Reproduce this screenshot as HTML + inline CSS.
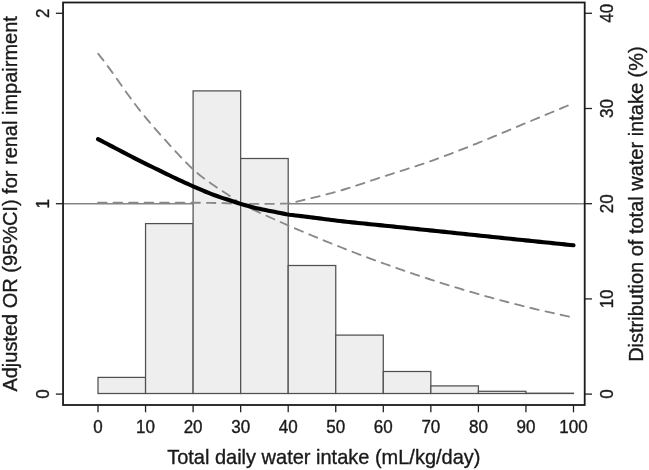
<!DOCTYPE html>
<html><head><meta charset="utf-8"><style>
html,body{margin:0;padding:0;background:#fff;width:649px;height:470px;overflow:hidden;font-family:"Liberation Sans",sans-serif;}
svg{display:block;will-change:transform;}
</style></head><body>
<svg width="649" height="470" viewBox="0 0 649 470">
<rect x="0" y="0" width="649" height="470" fill="#fff"/>
<line x1="63.05" y1="203.70" x2="584.70" y2="203.70" stroke="#858585" stroke-width="1.5"/>
<rect x="98.00" y="377.40" width="47.55" height="16.10" fill="#eeeeee" stroke="#505050" stroke-width="1.25"/>
<rect x="145.55" y="223.60" width="47.55" height="169.90" fill="#eeeeee" stroke="#505050" stroke-width="1.25"/>
<rect x="193.10" y="90.90" width="47.55" height="302.60" fill="#eeeeee" stroke="#505050" stroke-width="1.25"/>
<rect x="240.65" y="158.50" width="47.55" height="235.00" fill="#eeeeee" stroke="#505050" stroke-width="1.25"/>
<rect x="288.20" y="265.50" width="47.55" height="128.00" fill="#eeeeee" stroke="#505050" stroke-width="1.25"/>
<rect x="335.75" y="335.10" width="47.55" height="58.40" fill="#eeeeee" stroke="#505050" stroke-width="1.25"/>
<rect x="383.30" y="371.50" width="47.55" height="22.00" fill="#eeeeee" stroke="#505050" stroke-width="1.25"/>
<rect x="430.85" y="385.90" width="47.55" height="7.60" fill="#eeeeee" stroke="#505050" stroke-width="1.25"/>
<rect x="478.40" y="391.30" width="47.55" height="2.20" fill="#eeeeee" stroke="#505050" stroke-width="1.25"/>
<rect x="525.95" y="393.20" width="47.55" height="0.30" fill="#eeeeee" stroke="#505050" stroke-width="1.25"/>
<path d="M98.20 53.79 L100.61 56.80 L103.03 59.90 L105.44 63.08 L107.86 66.33 L110.27 69.64 L112.69 73.00 L115.10 76.39 L117.52 79.80 L119.93 83.22 L122.34 86.64 L124.76 90.05 L127.17 93.44 L129.59 96.79 L132.00 100.09 L134.42 103.33 L136.83 106.50 L139.24 109.60 L141.66 112.64 L144.07 115.62 L146.49 118.54 L148.90 121.42 L151.32 124.26 L153.73 127.07 L156.15 129.84 L158.56 132.58 L160.97 135.31 L163.39 138.01 L165.80 140.71 L168.22 143.40 L170.63 146.07 L173.05 148.73 L175.46 151.35 L177.88 153.95 L180.29 156.52 L182.70 159.04 L185.12 161.52 L187.53 163.95 L189.95 166.30 L192.36 168.59 L194.78 170.79 L197.19 172.90 L199.61 174.92 L202.02 176.85 L204.43 178.70 L206.85 180.49 L209.26 182.22 L211.68 183.91 L214.09 185.55 L216.51 187.17 L218.92 188.77 L221.33 190.36 L223.75 191.95 L226.16 193.55 L228.58 195.17 L230.99 196.82 L233.41 198.51 L235.82 200.24 L238.24 202.04 L240.65 203.90 L244.01 203.90 L247.37 203.90 L250.74 203.90 L254.10 203.90 L257.46 203.90 L260.82 203.90 L264.18 203.90 L267.55 203.89 L270.91 203.87 L274.27 203.82 L277.63 203.75 L281.00 203.66 L284.36 203.55 L287.72 203.41 L291.08 203.03 L294.44 202.26 L297.81 201.35 L301.17 200.53 L304.53 199.75 L307.89 198.97 L311.25 198.17 L314.62 197.36 L317.98 196.54 L321.34 195.70 L324.70 194.84 L328.07 193.97 L331.43 193.07 L334.79 192.16 L338.15 191.22 L341.51 190.24 L344.88 189.24 L348.24 188.20 L351.60 187.14 L354.96 186.05 L358.32 184.95 L361.69 183.84 L365.05 182.71 L368.41 181.58 L371.77 180.45 L375.13 179.33 L378.50 178.21 L381.86 177.09 L385.22 176.00 L388.58 174.91 L391.95 173.84 L395.31 172.76 L398.67 171.69 L402.03 170.62 L405.39 169.55 L408.76 168.47 L412.12 167.38 L415.48 166.28 L418.84 165.17 L422.20 164.04 L425.57 162.90 L428.93 161.73 L432.29 160.54 L435.65 159.33 L439.02 158.10 L442.38 156.86 L445.74 155.60 L449.10 154.33 L452.46 153.04 L455.83 151.74 L459.19 150.44 L462.55 149.12 L465.91 147.80 L469.27 146.47 L472.64 145.14 L476.00 143.80 L479.36 142.45 L482.72 141.09 L486.08 139.72 L489.45 138.33 L492.81 136.94 L496.17 135.53 L499.53 134.12 L502.90 132.71 L506.26 131.29 L509.62 129.87 L512.98 128.45 L516.34 127.03 L519.71 125.62 L523.07 124.20 L526.43 122.80 L529.79 121.40 L533.15 120.00 L536.52 118.60 L539.88 117.20 L543.24 115.80 L546.60 114.40 L549.97 113.00 L553.33 111.60 L556.69 110.20 L560.05 108.80 L563.41 107.40 L566.78 106.00 L570.14 104.60 L573.50 103.20" fill="none" stroke="#888" stroke-width="1.85" stroke-linecap="round" stroke-dasharray="8.6 6.95"/>
<path d="M98.00 202.60 L100.42 202.60 L102.84 202.60 L105.25 202.60 L107.67 202.60 L110.09 202.60 L112.51 202.60 L114.92 202.60 L117.34 202.60 L119.76 202.60 L122.18 202.60 L124.60 202.60 L127.01 202.60 L129.43 202.60 L131.85 202.60 L134.27 202.60 L136.68 202.60 L139.10 202.60 L141.52 202.60 L143.94 202.60 L146.36 202.60 L148.77 202.60 L151.19 202.60 L153.61 202.60 L156.03 202.60 L158.44 202.60 L160.86 202.61 L163.28 202.61 L165.70 202.61 L168.12 202.62 L170.53 202.62 L172.95 202.63 L175.37 202.64 L177.79 202.64 L180.21 202.65 L182.62 202.66 L185.04 202.67 L187.46 202.68 L189.88 202.69 L192.29 202.70 L194.71 202.71 L197.13 202.73 L199.55 202.75 L201.97 202.78 L204.38 202.81 L206.80 202.85 L209.22 202.89 L211.64 202.93 L214.05 202.98 L216.47 203.02 L218.89 203.08 L221.31 203.13 L223.73 203.20 L226.14 203.27 L228.56 203.36 L230.98 203.46 L233.40 203.56 L235.81 203.67 L238.23 203.78 L240.65 203.90 L244.01 205.48 L247.37 207.04 L250.74 208.60 L254.10 210.15 L257.46 211.69 L260.82 213.23 L264.18 214.75 L267.55 216.27 L270.91 217.78 L274.27 219.28 L277.63 220.77 L281.00 222.25 L284.36 223.73 L287.72 225.20 L291.08 226.65 L294.44 228.10 L297.81 229.55 L301.17 230.98 L304.53 232.40 L307.89 233.82 L311.25 235.23 L314.62 236.63 L317.98 238.02 L321.34 239.40 L324.70 240.77 L328.07 242.14 L331.43 243.49 L334.79 244.84 L338.15 246.18 L341.51 247.51 L344.88 248.83 L348.24 250.14 L351.60 251.45 L354.96 252.74 L358.32 254.03 L361.69 255.30 L365.05 256.57 L368.41 257.83 L371.77 259.09 L375.13 260.33 L378.50 261.56 L381.86 262.79 L385.22 264.00 L388.58 265.21 L391.95 266.41 L395.31 267.60 L398.67 268.78 L402.03 269.95 L405.39 271.11 L408.76 272.26 L412.12 273.41 L415.48 274.54 L418.84 275.67 L422.20 276.79 L425.57 277.90 L428.93 279.00 L432.29 280.09 L435.65 281.17 L439.02 282.24 L442.38 283.30 L445.74 284.36 L449.10 285.40 L452.46 286.44 L455.83 287.46 L459.19 288.48 L462.55 289.49 L465.91 290.49 L469.27 291.47 L472.64 292.45 L476.00 293.43 L479.36 294.39 L482.72 295.34 L486.08 296.28 L489.45 297.22 L492.81 298.14 L496.17 299.05 L499.53 299.96 L502.90 300.86 L506.26 301.74 L509.62 302.62 L512.98 303.49 L516.34 304.34 L519.71 305.19 L523.07 306.03 L526.43 306.86 L529.79 307.68 L533.15 308.49 L536.52 309.29 L539.88 310.09 L543.24 310.87 L546.60 311.64 L549.97 312.40 L553.33 313.16 L556.69 313.90 L560.05 314.63 L563.41 315.36 L566.78 316.07 L570.14 316.78 L573.50 317.47" fill="none" stroke="#888" stroke-width="1.85" stroke-linecap="round" stroke-dasharray="8.6 6.95"/>
<path d="M98.00 139.10 L100.99 140.66 L103.98 142.22 L106.97 143.77 L109.96 145.34 L112.95 146.90 L115.94 148.47 L118.93 150.04 L121.92 151.61 L124.92 153.18 L127.91 154.73 L130.90 156.28 L133.89 157.82 L136.88 159.35 L139.87 160.88 L142.86 162.38 L145.85 163.86 L148.84 165.32 L151.83 166.77 L154.82 168.22 L157.81 169.67 L160.80 171.12 L163.79 172.59 L166.78 174.07 L169.77 175.53 L172.76 176.98 L175.75 178.41 L178.75 179.82 L181.74 181.20 L184.73 182.57 L187.72 183.91 L190.71 185.25 L193.70 186.56 L196.69 187.88 L199.68 189.19 L202.67 190.48 L205.66 191.75 L208.65 192.97 L211.64 194.13 L214.63 195.23 L217.62 196.30 L220.61 197.33 L223.60 198.33 L226.59 199.32 L229.58 200.31 L232.58 201.29 L235.57 202.29 L238.56 203.26 L241.55 204.16 L244.54 205.02 L247.53 205.85 L250.52 206.65 L253.51 207.41 L256.50 208.14 L259.49 208.82 L262.48 209.46 L265.47 210.07 L268.46 210.66 L271.45 211.23 L274.44 211.80 L277.43 212.39 L280.42 213.01 L283.42 213.63 L286.41 214.20 L289.40 214.68 L292.39 215.08 L295.38 215.45 L298.37 215.80 L301.36 216.16 L304.35 216.50 L307.34 216.86 L310.33 217.22 L313.32 217.60 L316.31 217.99 L319.30 218.38 L322.29 218.77 L325.28 219.16 L328.27 219.55 L331.26 219.94 L334.25 220.31 L337.25 220.68 L340.24 221.03 L343.23 221.37 L346.22 221.70 L349.21 222.03 L352.20 222.35 L355.19 222.66 L358.18 222.97 L361.17 223.28 L364.16 223.58 L367.15 223.89 L370.14 224.19 L373.13 224.49 L376.12 224.79 L379.11 225.09 L382.10 225.39 L385.09 225.69 L388.08 226.00 L391.08 226.31 L394.07 226.62 L397.06 226.93 L400.05 227.24 L403.04 227.55 L406.03 227.87 L409.02 228.18 L412.01 228.49 L415.00 228.80 L417.99 229.11 L420.98 229.42 L423.97 229.73 L426.96 230.04 L429.95 230.35 L432.94 230.66 L435.93 230.98 L438.92 231.29 L441.92 231.60 L444.91 231.91 L447.90 232.23 L450.89 232.54 L453.88 232.86 L456.87 233.17 L459.86 233.49 L462.85 233.80 L465.84 234.11 L468.83 234.43 L471.82 234.74 L474.81 235.06 L477.80 235.37 L480.79 235.68 L483.78 236.00 L486.77 236.31 L489.76 236.62 L492.75 236.93 L495.75 237.24 L498.74 237.55 L501.73 237.87 L504.72 238.18 L507.71 238.49 L510.70 238.80 L513.69 239.11 L516.68 239.42 L519.67 239.73 L522.66 240.04 L525.65 240.35 L528.64 240.66 L531.63 240.98 L534.62 241.29 L537.61 241.59 L540.60 241.90 L543.59 242.21 L546.58 242.52 L549.58 242.83 L552.57 243.14 L555.56 243.45 L558.55 243.76 L561.54 244.07 L564.53 244.38 L567.52 244.68 L570.51 244.99 L573.50 245.30" fill="none" stroke="#000" stroke-width="4.1" stroke-linecap="round" stroke-linejoin="round"/>
<rect x="63.05" y="2.50" width="521.65" height="402.50" fill="none" stroke="#1a1a1a" stroke-width="1.8"/>
<line x1="55.90" y1="394.10" x2="63.05" y2="394.10" stroke="#222" stroke-width="1.3"/>
<line x1="55.90" y1="203.70" x2="63.05" y2="203.70" stroke="#222" stroke-width="1.3"/>
<line x1="55.90" y1="13.30" x2="63.05" y2="13.30" stroke="#222" stroke-width="1.3"/>
<line x1="584.70" y1="394.10" x2="592.00" y2="394.10" stroke="#222" stroke-width="1.3"/>
<line x1="584.70" y1="298.90" x2="592.00" y2="298.90" stroke="#222" stroke-width="1.3"/>
<line x1="584.70" y1="203.70" x2="592.00" y2="203.70" stroke="#222" stroke-width="1.3"/>
<line x1="584.70" y1="108.50" x2="592.00" y2="108.50" stroke="#222" stroke-width="1.3"/>
<line x1="584.70" y1="13.30" x2="592.00" y2="13.30" stroke="#222" stroke-width="1.3"/>
<line x1="98.00" y1="405.00" x2="98.00" y2="412.30" stroke="#222" stroke-width="1.3"/>
<line x1="145.55" y1="405.00" x2="145.55" y2="412.30" stroke="#222" stroke-width="1.3"/>
<line x1="193.10" y1="405.00" x2="193.10" y2="412.30" stroke="#222" stroke-width="1.3"/>
<line x1="240.65" y1="405.00" x2="240.65" y2="412.30" stroke="#222" stroke-width="1.3"/>
<line x1="288.20" y1="405.00" x2="288.20" y2="412.30" stroke="#222" stroke-width="1.3"/>
<line x1="335.75" y1="405.00" x2="335.75" y2="412.30" stroke="#222" stroke-width="1.3"/>
<line x1="383.30" y1="405.00" x2="383.30" y2="412.30" stroke="#222" stroke-width="1.3"/>
<line x1="430.85" y1="405.00" x2="430.85" y2="412.30" stroke="#222" stroke-width="1.3"/>
<line x1="478.40" y1="405.00" x2="478.40" y2="412.30" stroke="#222" stroke-width="1.3"/>
<line x1="525.95" y1="405.00" x2="525.95" y2="412.30" stroke="#222" stroke-width="1.3"/>
<line x1="573.50" y1="405.00" x2="573.50" y2="412.30" stroke="#222" stroke-width="1.3"/>
<text transform="translate(48.7 394.10) rotate(-90) scale(1 1.04)" text-anchor="middle" font-size="17" font-family="Liberation Sans, sans-serif" fill="#1a1a1a" stroke="#1a1a1a" stroke-width="0.35">0</text>
<text transform="translate(48.7 203.70) rotate(-90) scale(1 1.04)" text-anchor="middle" font-size="17" font-family="Liberation Sans, sans-serif" fill="#1a1a1a" stroke="#1a1a1a" stroke-width="0.35">1</text>
<text transform="translate(48.7 13.30) rotate(-90) scale(1 1.04)" text-anchor="middle" font-size="17" font-family="Liberation Sans, sans-serif" fill="#1a1a1a" stroke="#1a1a1a" stroke-width="0.35">2</text>
<text transform="translate(612.6 394.10) rotate(-90) scale(1 1.04)" text-anchor="middle" font-size="17" font-family="Liberation Sans, sans-serif" fill="#1a1a1a" stroke="#1a1a1a" stroke-width="0.35">0</text>
<text transform="translate(612.6 298.90) rotate(-90) scale(1 1.04)" text-anchor="middle" font-size="17" font-family="Liberation Sans, sans-serif" fill="#1a1a1a" stroke="#1a1a1a" stroke-width="0.35">10</text>
<text transform="translate(612.6 203.70) rotate(-90) scale(1 1.04)" text-anchor="middle" font-size="17" font-family="Liberation Sans, sans-serif" fill="#1a1a1a" stroke="#1a1a1a" stroke-width="0.35">20</text>
<text transform="translate(612.6 108.50) rotate(-90) scale(1 1.04)" text-anchor="middle" font-size="17" font-family="Liberation Sans, sans-serif" fill="#1a1a1a" stroke="#1a1a1a" stroke-width="0.35">30</text>
<text transform="translate(612.6 13.30) rotate(-90) scale(1 1.04)" text-anchor="middle" font-size="17" font-family="Liberation Sans, sans-serif" fill="#1a1a1a" stroke="#1a1a1a" stroke-width="0.35">40</text>
<text transform="translate(98.00 433.0) scale(1 1.04)" text-anchor="middle" font-size="17" font-family="Liberation Sans, sans-serif" fill="#1a1a1a" stroke="#1a1a1a" stroke-width="0.35">0</text>
<text transform="translate(145.55 433.0) scale(1 1.04)" text-anchor="middle" font-size="17" font-family="Liberation Sans, sans-serif" fill="#1a1a1a" stroke="#1a1a1a" stroke-width="0.35">10</text>
<text transform="translate(193.10 433.0) scale(1 1.04)" text-anchor="middle" font-size="17" font-family="Liberation Sans, sans-serif" fill="#1a1a1a" stroke="#1a1a1a" stroke-width="0.35">20</text>
<text transform="translate(240.65 433.0) scale(1 1.04)" text-anchor="middle" font-size="17" font-family="Liberation Sans, sans-serif" fill="#1a1a1a" stroke="#1a1a1a" stroke-width="0.35">30</text>
<text transform="translate(288.20 433.0) scale(1 1.04)" text-anchor="middle" font-size="17" font-family="Liberation Sans, sans-serif" fill="#1a1a1a" stroke="#1a1a1a" stroke-width="0.35">40</text>
<text transform="translate(335.75 433.0) scale(1 1.04)" text-anchor="middle" font-size="17" font-family="Liberation Sans, sans-serif" fill="#1a1a1a" stroke="#1a1a1a" stroke-width="0.35">50</text>
<text transform="translate(383.30 433.0) scale(1 1.04)" text-anchor="middle" font-size="17" font-family="Liberation Sans, sans-serif" fill="#1a1a1a" stroke="#1a1a1a" stroke-width="0.35">60</text>
<text transform="translate(430.85 433.0) scale(1 1.04)" text-anchor="middle" font-size="17" font-family="Liberation Sans, sans-serif" fill="#1a1a1a" stroke="#1a1a1a" stroke-width="0.35">70</text>
<text transform="translate(478.40 433.0) scale(1 1.04)" text-anchor="middle" font-size="17" font-family="Liberation Sans, sans-serif" fill="#1a1a1a" stroke="#1a1a1a" stroke-width="0.35">80</text>
<text transform="translate(525.95 433.0) scale(1 1.04)" text-anchor="middle" font-size="17" font-family="Liberation Sans, sans-serif" fill="#1a1a1a" stroke="#1a1a1a" stroke-width="0.35">90</text>
<text transform="translate(573.50 433.0) scale(1 1.04)" text-anchor="middle" font-size="17" font-family="Liberation Sans, sans-serif" fill="#1a1a1a" stroke="#1a1a1a" stroke-width="0.35">100</text>
<text transform="translate(323.8 463.5) scale(1 1.04)" text-anchor="middle" font-size="20" font-family="Liberation Sans, sans-serif" fill="#1a1a1a" stroke="#1a1a1a" stroke-width="0.35">Total daily water intake (mL/kg/day)</text>
<text transform="translate(16.7 203.9) rotate(-90) scale(1 1.04)" text-anchor="middle" font-size="20" font-family="Liberation Sans, sans-serif" fill="#1a1a1a" stroke="#1a1a1a" stroke-width="0.35">Adjusted OR (95%CI) for renal impairment</text>
<text transform="translate(643.1 204.1) rotate(-90) scale(1 1.04)" text-anchor="middle" font-size="20" font-family="Liberation Sans, sans-serif" fill="#1a1a1a" stroke="#1a1a1a" stroke-width="0.35">Distribution of total water intake (%)</text>
</svg>
</body></html>
